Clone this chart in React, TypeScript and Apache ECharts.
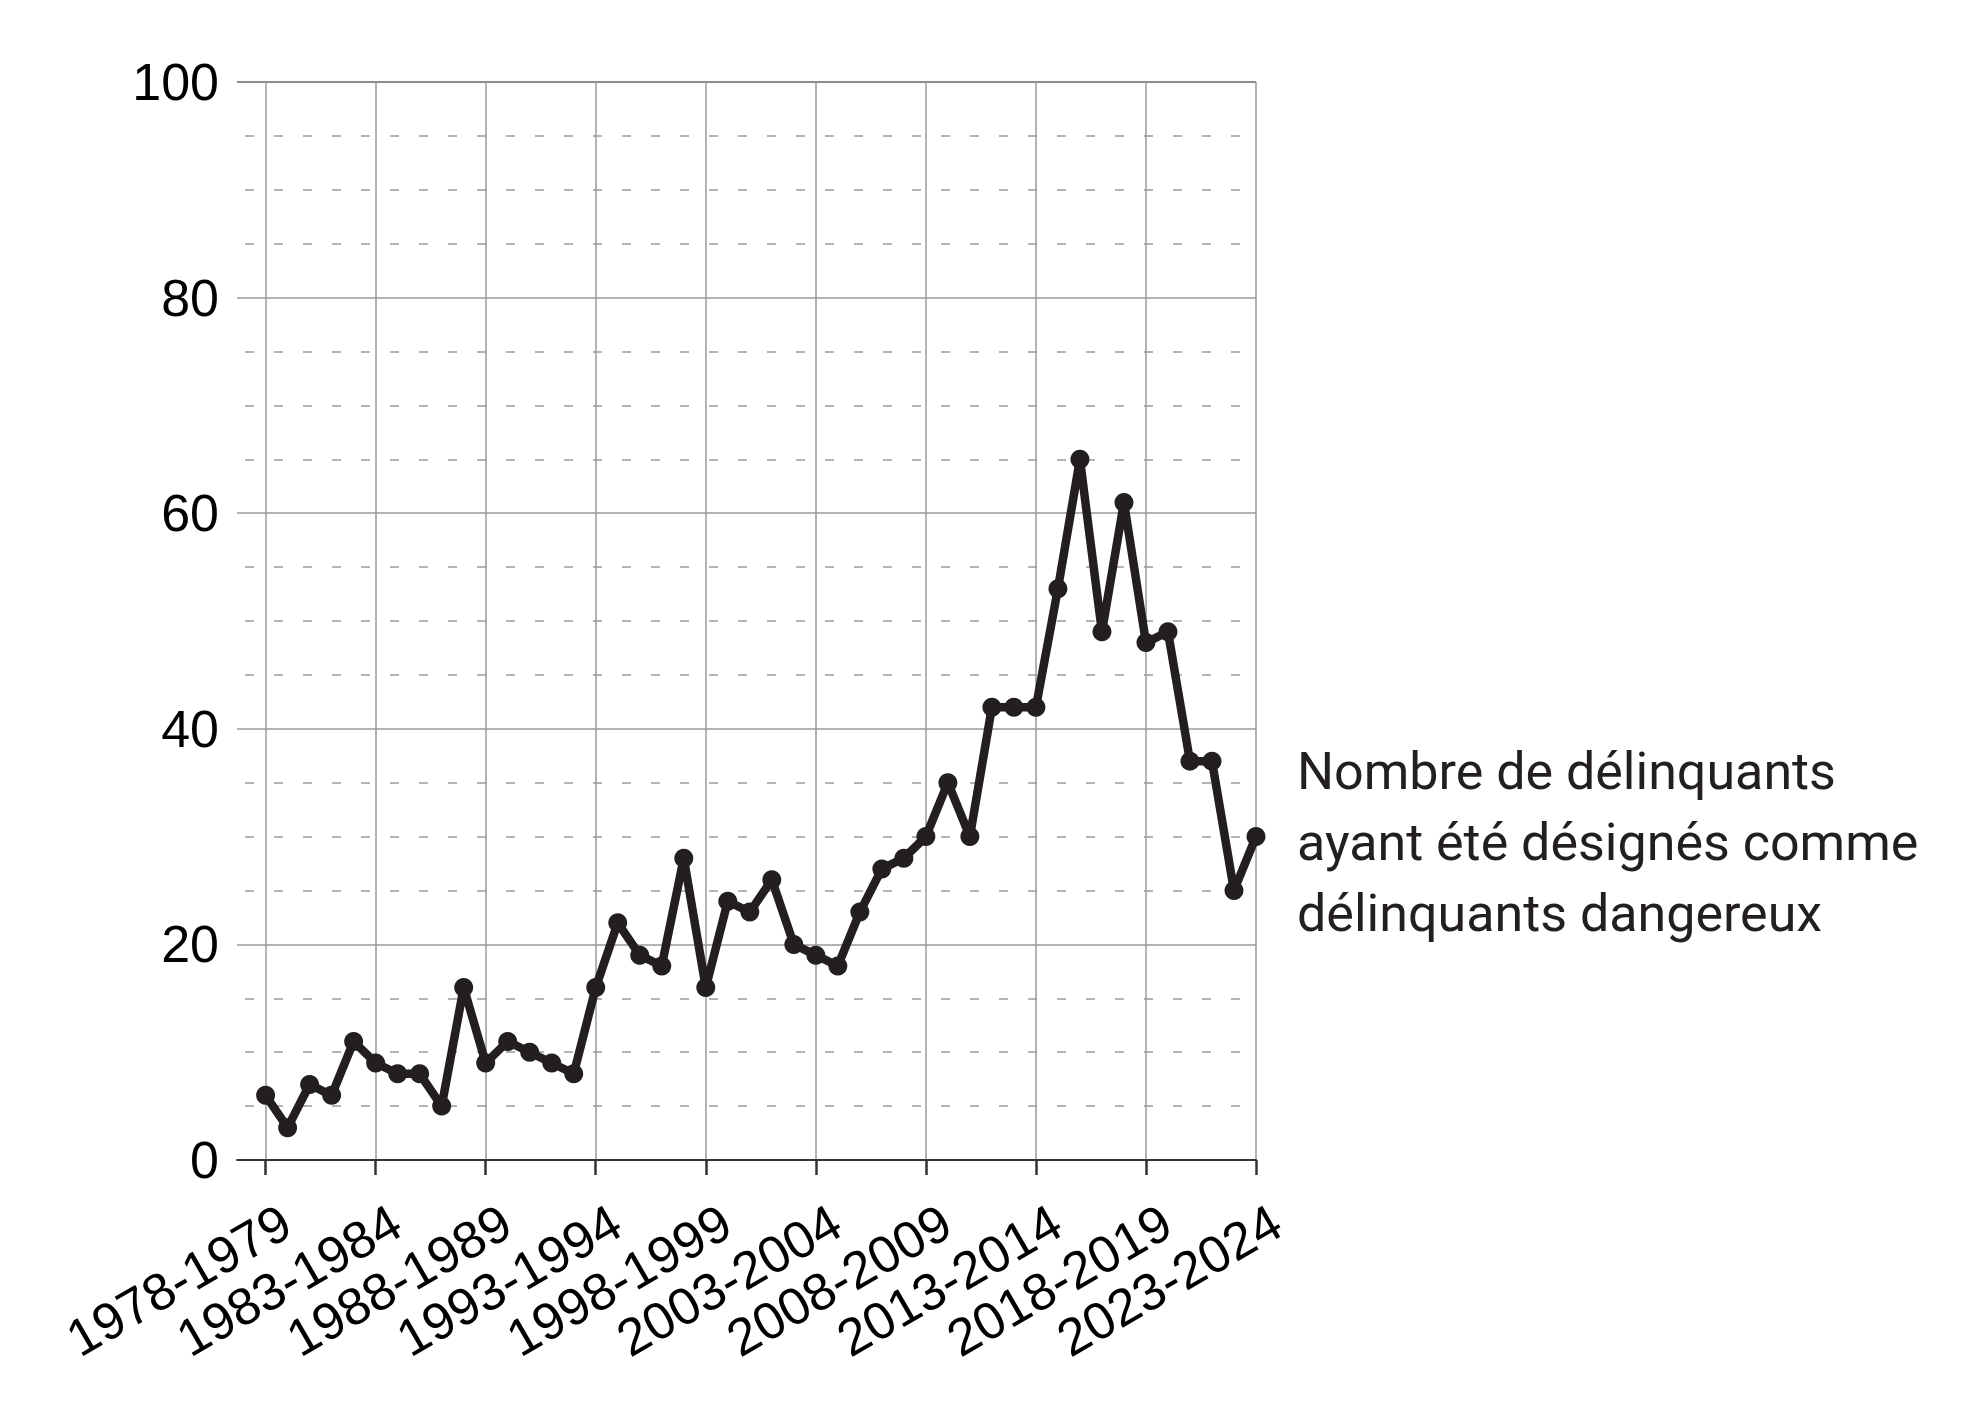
import React, { useEffect, useRef } from 'react';
import * as echarts from 'echarts';

// saisons affichées (une par année fiscale)
const seasons = [
  '1978-1979', '1979-1980', '1980-1981', '1981-1982', '1982-1983',
  '1983-1984', '1984-1985', '1985-1986', '1986-1987', '1987-1988',
  '1988-1989', '1989-1990', '1990-1991', '1991-1992', '1992-1993',
  '1993-1994', '1994-1995', '1995-1996', '1996-1997', '1997-1998',
  '1998-1999', '1999-2000', '2000-2001', '2001-2002', '2002-2003',
  '2003-2004', '2004-2005', '2005-2006', '2006-2007', '2007-2008',
  '2008-2009', '2009-2010', '2010-2011', '2011-2012', '2012-2013',
  '2013-2014', '2014-2015', '2015-2016', '2016-2017', '2017-2018',
  '2018-2019', '2019-2020', '2020-2021', '2021-2022', '2022-2023',
  '2023-2024'
];

const offenders = [
  6, 3, 7, 6, 11, 9, 8, 8, 5, 16,
  9, 11, 10, 9, 8, 16, 22, 19, 18, 28,
  16, 24, 23, 26, 20, 19, 18, 23, 27, 28,
  30, 35, 30, 42, 42, 42, 53, 65, 49, 61,
  48, 49, 37, 37, 25, 30
];

// index of the seasons that get a tick + label
const labelSteps = [0, 5, 10, 15, 20, 25, 30, 35, 40, 45];

const seriesName = 'Nombre de délinquants\nayant été désignés comme\ndélinquants dangereux';

const INK = '#231f20';
const GRID = '#9a9a9a';

export default function App() {
  const chartRef = useRef<HTMLDivElement>(null);

  useEffect(() => {
    if (!chartRef.current) return;
    const chart = echarts.init(chartRef.current, null, { renderer: 'svg' });

    chart.setOption({
      animation: false,
      backgroundColor: '#fff',
      grid: {
        left: 237,
        right: 717,
        top: 82,
        bottom: 249,
        containLabel: false,
        outerBoundsMode: 'none'
      },
      xAxis: {
        type: 'value',
        min: -1.3,
        max: seasons.length - 1,
        splitNumber: 9,
        axisLine: { onZero: true, lineStyle: { color: '#333', width: 2 } },
        axisTick: {
          customValues: labelSteps,
          length: 15,
          lineStyle: { color: '#333', width: 2.5 }
        },
        axisLabel: {
          customValues: labelSteps,
          rotate: 30,
          margin: 70,
          padding: [0, -24, 0, 0],
          fontSize: 52,
          fontFamily: 'Liberation Sans',
          color: '#000',
          formatter: (v: number) => seasons[v] ?? ''
        },
        splitLine: {
          show: true,
          lineStyle: { color: GRID, width: 1.5 }
        }
      },
      yAxis: {
        type: 'value',
        min: 0,
        max: 100,
        interval: 20,
        axisLine: { show: false },
        axisTick: { show: false },
        axisLabel: {
          margin: 18,
          fontSize: 52,
          fontFamily: 'Liberation Sans',
          color: '#000'
        },
        splitLine: {
          lineStyle: {
            color: ['#333', GRID, GRID, GRID, GRID, '#666'],
            width: 1.5
          }
        },
        minorTick: { show: false, splitNumber: 4 },
        minorSplitLine: {
          show: true,
          lineStyle: { color: GRID, width: 1.5, type: [9, 20], dashOffset: -8 }
        }
      },
      series: [
        {
          type: 'line',
          name: seriesName,
          data: offenders.map((v, i) => [i, v]),
          symbol: 'circle',
          symbolSize: 19,
          lineStyle: { color: INK, width: 8.5 },
          itemStyle: { color: INK },
          z: 5,
          endLabel: {
            show: true,
            formatter: seriesName,
            distance: 41,
            offset: [0, 6],
            fontSize: 52,
            lineHeight: 71,
            fontFamily: 'Roboto',
            color: INK
          }
        }
      ]
    });

    return () => {
      chart.dispose();
    };
  }, []);

  return (
    <div
      ref={chartRef}
      style={{ position: 'fixed', left: 0, top: 0, width: 1973, height: 1409, background: '#fff' }}
    />
  );
}
